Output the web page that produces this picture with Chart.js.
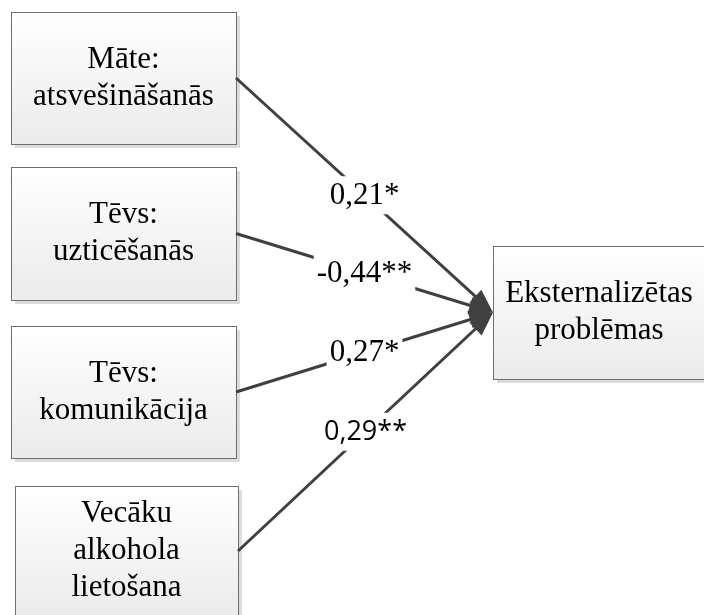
<!DOCTYPE html>
<html>
<head>
<meta charset="utf-8">
<script src="https://cdn.jsdelivr.net/npm/chart.js@4.4.1/dist/chart.umd.min.js"></script>
<style>
  html, body { margin: 0; padding: 0; background: #fff; }
  #c { display: block; }
</style>
</head>
<body>
<canvas id="c" width="704" height="615"></canvas>
<script>
// path model: predictors -> outcome, standardized coefficients
const predictors = [
  ['Māte:', 'atsvešināšanās'],
  ['Tēvs:', 'uzticēšanās'],
  ['Tēvs:', 'komunikācija'],
  ['Vecāku', 'alkohola', 'lietošana']
]
const outcome = ['Eksternalizētas', 'problēmas']
const coefficients = [0.21, -0.44, 0.27, 0.29]
const stars = ['*', '**', '*', '**']

// layout of the boxes in page units: [left, top, width, height]
const predictorBoxes = [
  [11, 12, 225, 132],
  [11, 167, 225, 133],
  [11, 326, 225, 132],
  [15, 486, 223, 130]
]
const outcomeBox = [493, 246, 212, 133]

const ink = '#404040'
const arrowLen = 24
const arrowHalf = 9

function fmt(v, s) {
  return v.toFixed(2).replace('.', ',') + s
}

const tip = { x: outcomeBox[0], y: outcomeBox[1] + outcomeBox[3] / 2 }

const paths = predictorBoxes.map(b => {
  const start = { x: b[0] + b[2], y: b[1] + b[3] / 2 }
  const dx = tip.x - start.x, dy = tip.y - start.y
  const len = Math.hypot(dx, dy)
  // stop the line at the arrowhead base
  const end = { x: tip.x - dx / len * (arrowLen - 2), y: tip.y - dy / len * (arrowLen - 2) }
  return [start, end]
})

const datasets = paths.map((p, i) => ({
  label: fmt(coefficients[i], stars[i]),
  data: p,
  showLine: true,
  borderColor: ink,
  borderWidth: 3,
  pointRadius: 0,
  borderCapStyle: 'butt'
}))

function drawBox(ctx, sx, sy, b, lines, font, lh) {
  const x = sx.getPixelForValue(b[0]), y = sy.getPixelForValue(b[1])
  const x2 = sx.getPixelForValue(b[0] + b[2]), y2 = sy.getPixelForValue(b[1] + b[3])
  const w = x2 - x, h = y2 - y
  ctx.fillStyle = '#dcdcdc'
  ctx.fillRect(x + 4, y + 4, w, h)
  const g = ctx.createLinearGradient(0, y, 0, y2)
  g.addColorStop(0, '#ffffff')
  g.addColorStop(1, '#ebebeb')
  ctx.fillStyle = g
  ctx.fillRect(x, y, w, h)
  ctx.strokeStyle = '#6e6e6e'
  ctx.lineWidth = 1
  ctx.strokeRect(Math.round(x) + 0.5, Math.round(y) + 0.5, Math.round(w), Math.round(h))
  ctx.fillStyle = '#000'
  ctx.font = font
  ctx.textAlign = 'center'
  ctx.textBaseline = 'middle'
  const cx = x + w / 2, cy = y + h / 2
  lines.forEach((t, i) => {
    ctx.fillText(t, cx, cy + (i - (lines.length - 1) / 2) * lh)
  })
}

const diagram = {
  id: 'diagram',
  beforeDatasetsDraw(chart) {
    const ctx = chart.ctx
    const sx = chart.scales.x, sy = chart.scales.y
    ctx.save()
    predictorBoxes.forEach((b, i) => drawBox(ctx, sx, sy, b, predictors[i], '31px "Liberation Serif"', 37))
    drawBox(ctx, sx, sy, outcomeBox, outcome, '31px "Liberation Serif"', 37)
    ctx.restore()
  },
  afterDatasetsDraw(chart) {
    const ctx = chart.ctx
    const sx = chart.scales.x, sy = chart.scales.y
    ctx.save()
    const tx = sx.getPixelForValue(tip.x), ty = sy.getPixelForValue(tip.y)
    chart.data.datasets.forEach((ds, i) => {
      const meta = chart.getDatasetMeta(i)
      const a = meta.data[0]
      // arrowhead
      const ang = Math.atan2(ty - a.y, tx - a.x)
      ctx.fillStyle = ink
      ctx.beginPath()
      ctx.moveTo(tx, ty)
      ctx.lineTo(tx - arrowLen * Math.cos(ang) + arrowHalf * Math.sin(ang), ty - arrowLen * Math.sin(ang) - arrowHalf * Math.cos(ang))
      ctx.lineTo(tx - arrowLen * Math.cos(ang) - arrowHalf * Math.sin(ang), ty - arrowLen * Math.sin(ang) + arrowHalf * Math.cos(ang))
      ctx.closePath()
      ctx.fill()
      // coefficient label at the midpoint of the full path
      const mx = (a.x + tx) / 2, my = (a.y + ty) / 2
      ctx.font = i === 3 ? '27px "Open Sans"' : '31px "Liberation Serif"'
      ctx.textAlign = 'center'
      ctx.textBaseline = 'middle'
      const w = ctx.measureText(ds.label).width
      ctx.fillStyle = '#fff'
      ctx.fillRect(mx - w / 2 - 3, my - 19, w + 6, 38)
      ctx.fillStyle = '#000'
      ctx.fillText(ds.label, mx, my + 1)
    })
    ctx.restore()
  }
}

new Chart(document.getElementById('c'), {
  type: 'scatter',
  data: { datasets: datasets },
  options: {
    responsive: false,
    animation: false,
    layout: { padding: 0 },
    scales: {
      x: { type: 'linear', min: 0, max: 704, display: false },
      y: { type: 'linear', min: 0, max: 615, reverse: true, display: false }
    },
    plugins: {
      legend: { display: false },
      tooltip: { enabled: false }
    }
  },
  plugins: [diagram]
})
</script>
</body>
</html>
